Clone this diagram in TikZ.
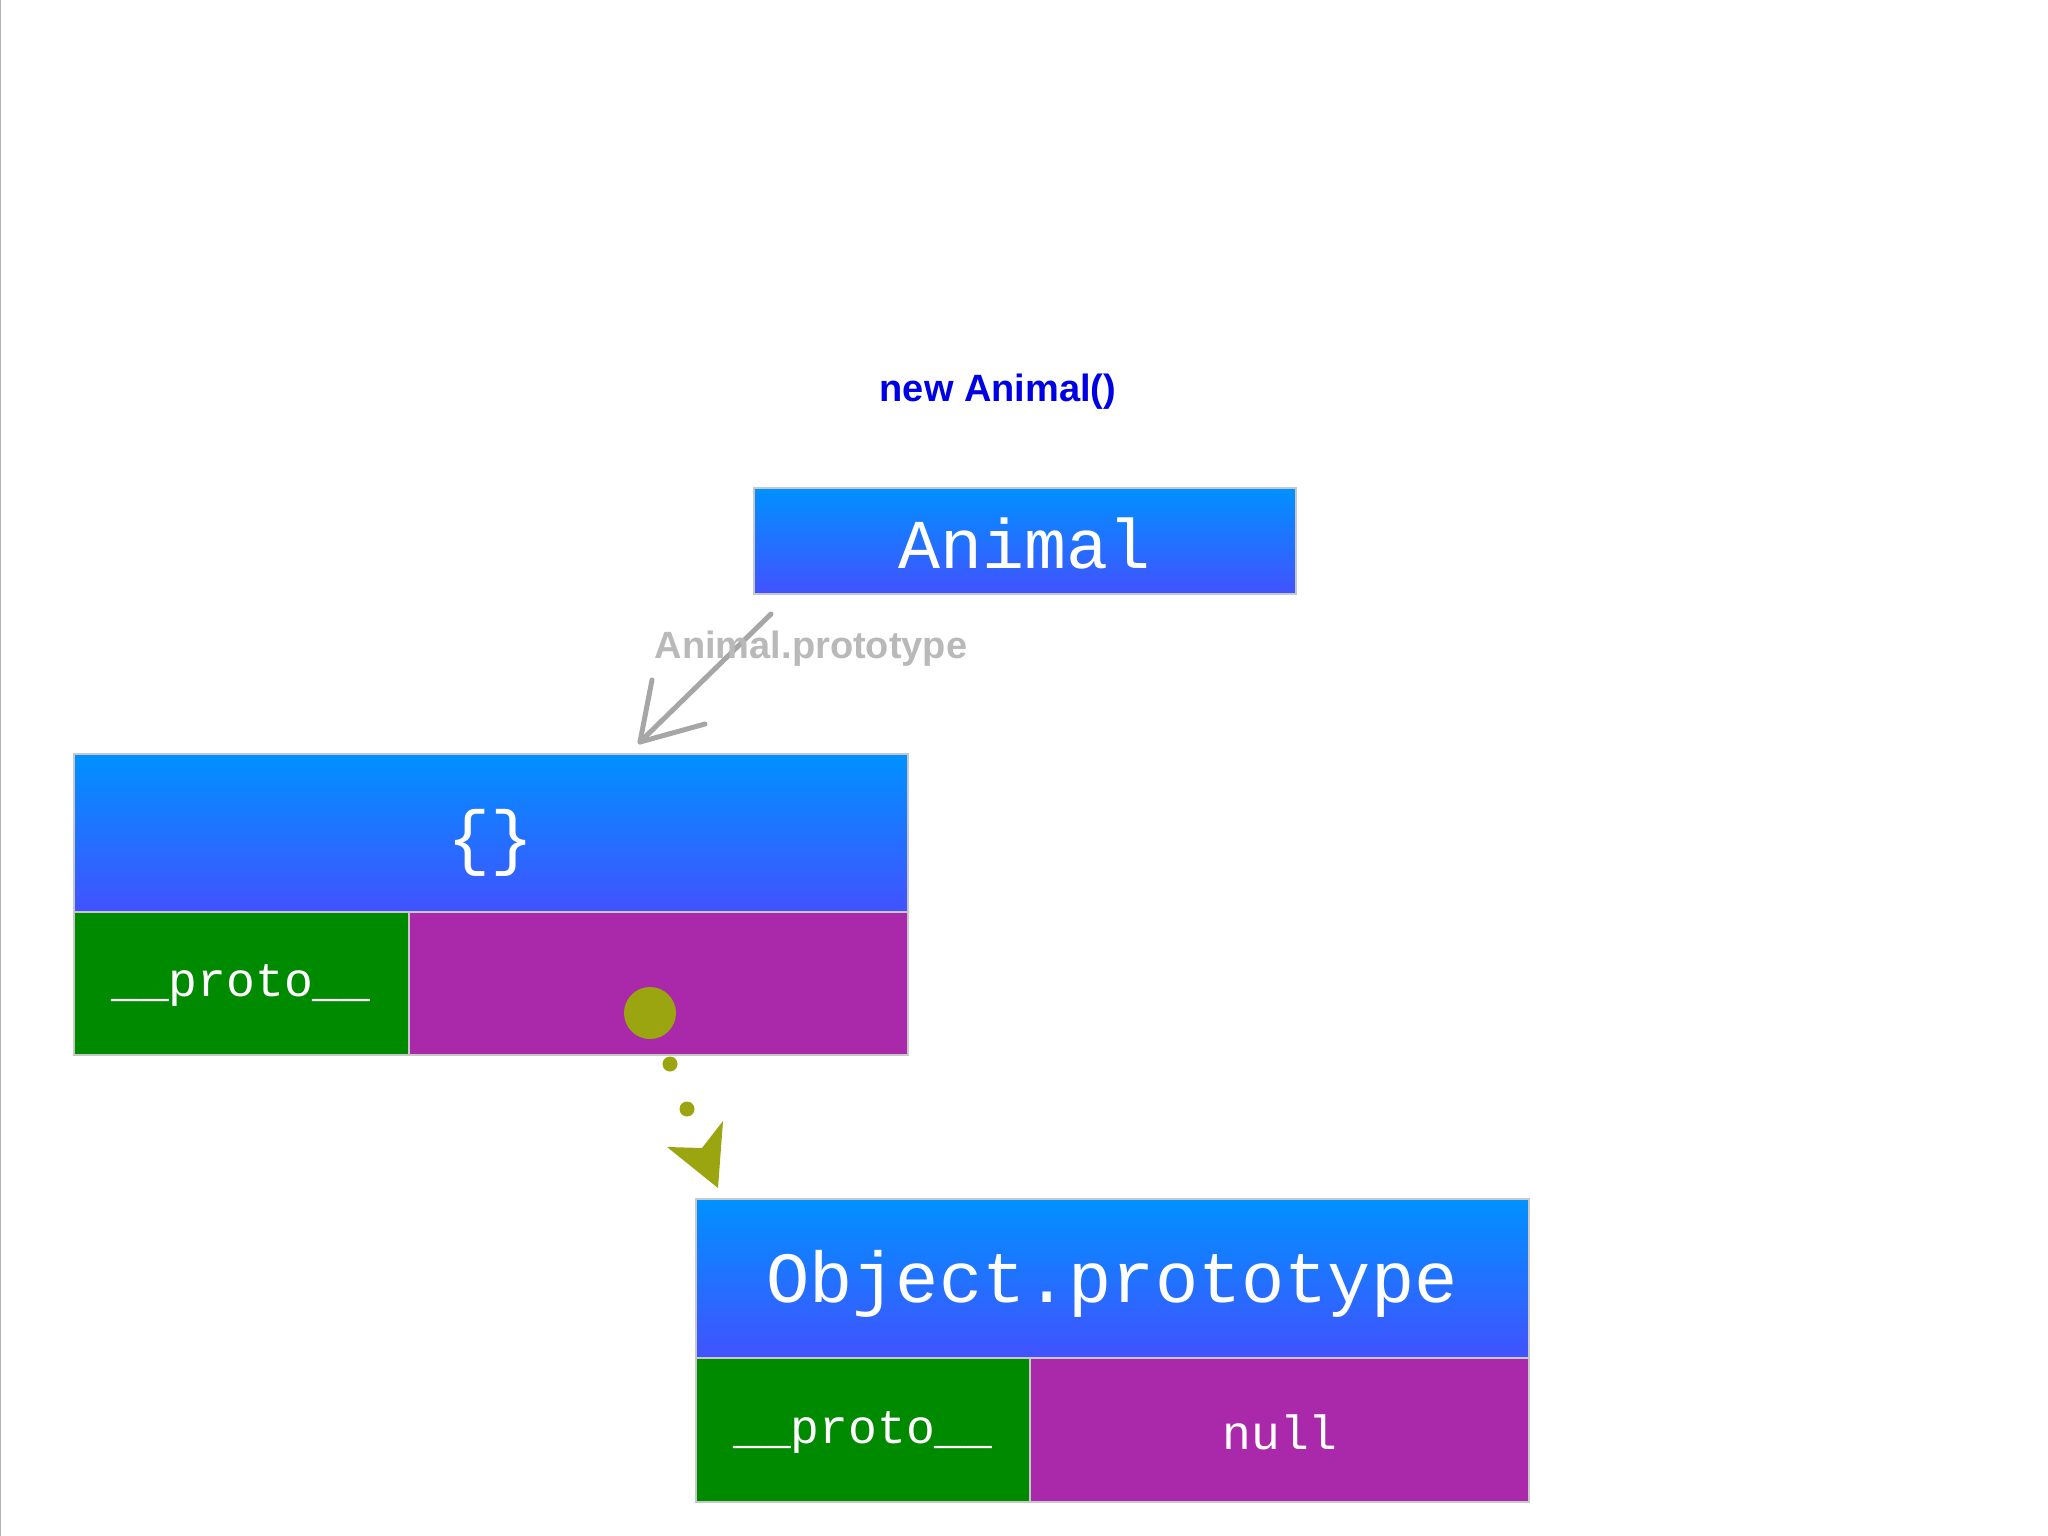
\documentclass[tikz,border=0pt]{standalone}
\usepackage{fontspec}
\setmainfont{Liberation Sans}
\newfontfamily\mono{Liberation Mono}
\begin{document}
\begin{tikzpicture}[x=1pt,y=-1pt,
  hdr/.style={top color=topb,bottom color=botb,draw=lgray,line width=2.5pt},
  grn/.style={fill=grn,draw=lgray,line width=2.5pt},
  pur/.style={fill=pur,draw=lgray,line width=2.5pt},
  mtxt/.style={text=white,font=\mono\fontsize{#1}{#1}\selectfont},
  olive/.style={fill=oliv}]
\definecolor{topb}{RGB}{0,145,255}
\definecolor{botb}{RGB}{66,82,255}
\definecolor{lgray}{RGB}{200,200,200}
\definecolor{grn}{RGB}{0,138,0}
\definecolor{pur}{RGB}{170,40,170}
\definecolor{oliv}{RGB}{155,165,15}
\useasboundingbox (0,0) rectangle (2048,1536);
\draw[gray!60,line width=1pt] (0,0) rectangle (2048,1536);
\node[text=blue!90!black,font=\bfseries\fontsize{38}{38}\selectfont] (title) at (998,392) {new Animal()};
% Animal
\draw[hdr] (754,488) rectangle (1296,594);
\node[mtxt=70] (animal) at (1025,543) {Animal};
\coordinate (animalA) at (771,614);
% {}
\draw[hdr] (74,754) rectangle (908,912);
\node[mtxt=72] (obj) at (491,843) {\{\}};
\draw[grn] (74,912) rectangle (409,1055);
\draw[pur] (409,912) rectangle (908,1055);
\node[mtxt=48] (p1) at (241,985) {\_\_proto\_\_};
% Object.prototype
\draw[hdr] (696,1199) rectangle (1529,1358);
\node[mtxt=72] (op) at (1112,1284) {Object.prototype};
\draw[grn] (696,1358) rectangle (1030,1502);
\draw[pur] (1030,1358) rectangle (1529,1502);
\node[mtxt=48] (p2) at (863,1432) {\_\_proto\_\_};
\node[mtxt=48] (nl) at (1280,1432) {null};
% gray arrow
\coordinate (objT) at (640,742);
\draw[gray!70,line width=5pt,line cap=round] (animalA) -- (objT);
\draw[gray!70,line width=5pt,line cap=round,line join=round] (652,680) -- (objT) -- (705,724);
\node[text=gray!55,font=\bfseries\fontsize{38}{38}\selectfont] (lbl) at (811,649) {Animal.prototype};
% olive dotted arrow
\fill[oliv] (650,1013) circle (26) coordinate (dot);
\fill[oliv] (670,1064) circle (7.5);
\fill[oliv] (687,1109) circle (7.5);
\coordinate (tip) at (718,1188);
\fill[oliv] (tip) -- (667,1147) -- (702,1148) -- (723,1121) -- cycle;
\end{tikzpicture}
\end{document}
